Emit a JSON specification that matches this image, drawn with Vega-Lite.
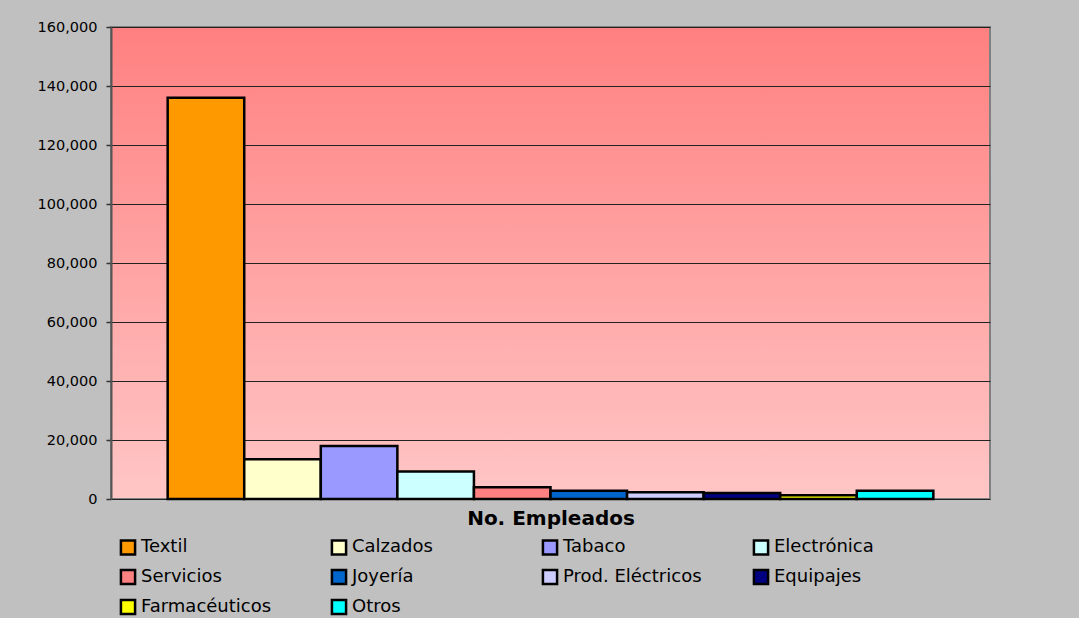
{
  "$schema": "https://vega.github.io/schema/vega-lite/v6.json",
  "width": 879,
  "height": 472,
  "autosize": {"type": "none"},
  "padding": {"left": 111, "top": 27, "right": 89, "bottom": 119},
  "background": "#C0C0C0",
  "config": {
    "view": {
      "stroke": "#808080",
      "strokeWidth": 2,
      "fill": {"gradient": "linear", "x1": 0, "y1": 0, "x2": 0, "y2": 1,
        "stops": [{"offset": 0, "color": "#FF8080"}, {"offset": 1, "color": "#FFC6C6"}]}
    },
    "font": "DejaVu Sans"
  },
  "data": {
    "values": [
      {"cat": "Textil", "value": 136000},
      {"cat": "Calzados", "value": 13500},
      {"cat": "Tabaco", "value": 18000},
      {"cat": "Electrónica", "value": 9300},
      {"cat": "Servicios", "value": 4000},
      {"cat": "Joyería", "value": 2800},
      {"cat": "Prod. Eléctricos", "value": 2300},
      {"cat": "Equipajes", "value": 2000},
      {"cat": "Farmacéuticos", "value": 1300},
      {"cat": "Otros", "value": 2800}
    ]
  },
  "mark": {"type": "bar", "stroke": "black", "strokeWidth": 2.5, "opacity": 1},
  "encoding": {
    "x": {
      "field": "cat", "type": "nominal", "sort": null,
      "scale": {"paddingInner": 0, "paddingOuter": 0.74},
      "axis": {"labels": false, "ticks": false, "domain": false, "title": "No. Empleados",
        "titleFont": "DejaVu Sans", "titleFontSize": 20, "titleFontWeight": "bold", "titleColor": "black", "titlePadding": 9}
    },
    "y": {
      "field": "value", "type": "quantitative",
      "scale": {"domain": [0, 160000], "nice": false},
      "axis": {"values": [0, 20000, 40000, 60000, 80000, 100000, 120000, 140000, 160000],
        "format": ",d", "title": null, "labelFont": "DejaVu Sans", "labelFontSize": 14.5, "labelColor": "black",
        "labelPadding": 9, "tickSize": 5, "tickColor": "#333", "tickWidth": 1.5,
        "domainColor": "#555", "domainWidth": 2,
        "grid": true, "gridColor": "#222", "gridWidth": 1, "gridOpacity": 1}
    },
    "color": {
      "field": "cat", "type": "nominal",
      "scale": {
        "domain": ["Textil", "Calzados", "Tabaco", "Electrónica", "Servicios", "Joyería", "Prod. Eléctricos", "Equipajes", "Farmacéuticos", "Otros"],
        "range": ["#FF9900", "#FFFFCC", "#9999FF", "#CCFFFF", "#FF8080", "#0066CC", "#CCCCFF", "#000080", "#FFFF00", "#00FFFF"]
      },
      "legend": {
        "orient": "none", "legendX": 8, "legendY": 511, "columns": 4, "direction": "horizontal",
        "gridAlign": "all", "columnPadding": 46, "rowPadding": 4, "padding": 0,
        "title": null, "symbolType": "square", "symbolSize": 200, "symbolStrokeColor": "black",
        "symbolStrokeWidth": 2.5, "symbolOpacity": 1,
        "labelFont": "DejaVu Sans", "labelFontSize": 18, "labelColor": "black", "labelOffset": 4, "labelLimit": 300
      }
    }
  }
}
